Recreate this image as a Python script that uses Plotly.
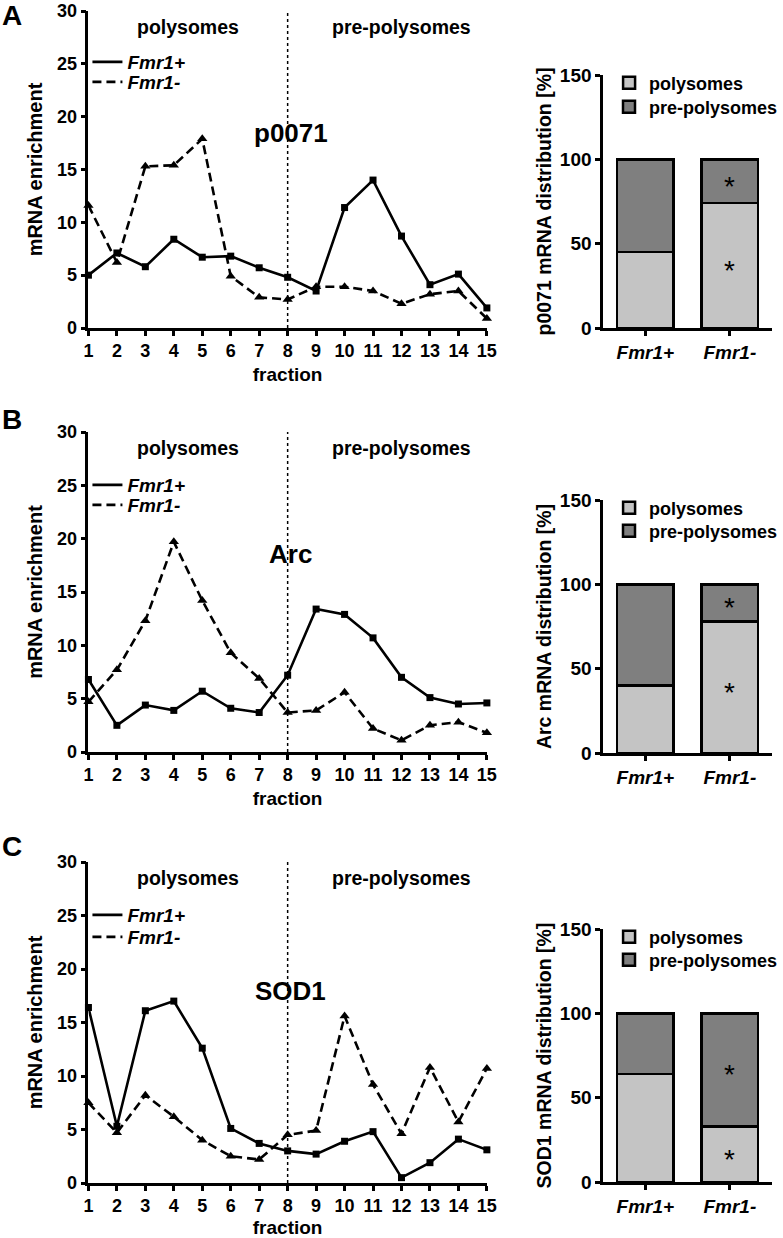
import plotly.graph_objects as go

# ---------------- data ----------------
fractions = list(range(1, 16))
genes = ["p0071", "Arc", "SOD1"]
panel_letters = ["A", "B", "C"]
region_labels = ["polysomes", "pre-polysomes"]
boundary_fraction = 8

p0071_fmr1_pos = [5.0, 7.1, 5.8, 8.4, 6.7, 6.8, 5.7, 4.8, 3.5, 11.4, 14.0, 8.7, 4.1, 5.1, 1.9]
p0071_fmr1_neg = [11.6, 6.2, 15.3, 15.4, 17.9, 4.9, 2.9, 2.7, 3.9, 3.9, 3.5, 2.3, 3.2, 3.5, 0.9]
arc_fmr1_pos = [6.8, 2.5, 4.4, 3.9, 5.7, 4.1, 3.7, 7.2, 13.4, 12.9, 10.7, 7.0, 5.1, 4.5, 4.6]
arc_fmr1_neg = [4.7, 7.7, 12.3, 19.7, 14.2, 9.3, 6.9, 3.7, 3.9, 5.6, 2.2, 1.1, 2.5, 2.8, 1.8]
sod1_fmr1_pos = [16.4, 5.3, 16.1, 17.0, 12.6, 5.1, 3.7, 3.0, 2.7, 3.9, 4.8, 0.5, 1.9, 4.1, 3.1]
sod1_fmr1_neg = [7.5, 4.7, 8.2, 6.2, 4.0, 2.5, 2.2, 4.5, 4.9, 15.6, 9.2, 4.6, 10.8, 5.7, 10.7]

genotypes = ["Fmr1+", "Fmr1-"]
p0071_polysomes = [45, 74]
p0071_prepolysomes = [55, 26]
arc_polysomes = [40, 78]
arc_prepolysomes = [60, 22]
sod1_polysomes = [64, 33]
sod1_prepolysomes = [36, 67]
# significance marks (Fmr1- vs Fmr1+) per segment
p0071_sig = {"polysomes": [False, True], "pre-polysomes": [False, True]}
arc_sig = {"polysomes": [False, True], "pre-polysomes": [False, True]}
sod1_sig = {"polysomes": [False, True], "pre-polysomes": [False, True]}

line_data = [(p0071_fmr1_pos, p0071_fmr1_neg), (arc_fmr1_pos, arc_fmr1_neg), (sod1_fmr1_pos, sod1_fmr1_neg)]
bar_data = [(p0071_polysomes, p0071_prepolysomes, p0071_sig),
            (arc_polysomes, arc_prepolysomes, arc_sig),
            (sod1_polysomes, sod1_prepolysomes, sod1_sig)]
gene_label_y = [18.5, 18.6, 17.9]

# ---------------- layout helpers ----------------
W, H = 783, 1238
FONT = "Liberation Sans, Arial, sans-serif"
LIGHT = "#c4c4c4"
DARK = "#7f7f7f"
DASH = "9px,5px"
LW = 2.6


def fx(p):
    return p / W


def fy(p):
    return 1 - p / H


line_x_px = (89, 490)
line_y_px = [(11, 328), (432, 752), (862, 1183)]
bar_x_px = (607, 777)
bar_y_px = [(75, 328), (500, 753), (929, 1182)]
line_leg_rows = [(62, 82), (485, 505), (915, 937)]
bar_leg_rows = [(83, 107), (508, 531), (937, 960)]
letter_y = [16, 420, 847]

fig = go.Figure()
layout = dict(
    width=W, height=H, margin=dict(l=0, r=0, t=0, b=0),
    paper_bgcolor="white", plot_bgcolor="white",
    barmode="stack", showlegend=True,
    font=dict(family=FONT, color="black"),
    annotations=[], shapes=[],
)

axis_common = dict(showline=True, linecolor="black", linewidth=2.5, ticks="outside",
                   tickcolor="black", tickwidth=2.5, ticklen=5, showgrid=False,
                   zeroline=False, mirror=False, automargin=False, ticklabeloverflow="allow",
                   tickfont=dict(family=FONT, size=18, weight="bold", color="black"))


def legend_name(k):
    return "legend" if k == 1 else f"legend{k}"


for i in range(3):
    lx, ly = 2 * i + 1, 2 * i + 2  # axis indices: line, bar
    xl, yl = f"x{lx}", f"y{lx}"
    xb, yb = f"x{ly}", f"y{ly}"
    pos, neg = line_data[i]

    # line chart traces
    fig.add_trace(go.Scatter(x=fractions, y=pos, mode="lines+markers", xaxis=xl, yaxis=yl,
                             line=dict(color="black", width=LW),
                             marker=dict(symbol="square", size=7, color="black"),
                             showlegend=False, cliponaxis=False))
    fig.add_trace(go.Scatter(x=fractions, y=neg, mode="lines+markers", xaxis=xl, yaxis=yl,
                             line=dict(color="black", width=LW, dash=DASH),
                             marker=dict(symbol="triangle-up", size=9, color="black"),
                             showlegend=False, cliponaxis=False))
    # legend entries (line samples only), one legend per entry for tight row spacing
    for j, (name, dash) in enumerate([("Fmr1+", "solid"), ("Fmr1-", DASH)]):
        k = 4 * i + 1 + j
        fig.add_trace(go.Scatter(x=[None], y=[None], mode="lines", name=name, xaxis=xl, yaxis=yl,
                                 line=dict(color="black", width=LW, dash=dash),
                                 legend=legend_name(k)))
        layout[legend_name(k)] = dict(x=fx(88), y=fy(line_leg_rows[i][j]), xanchor="left", yanchor="middle",
                                      bgcolor="rgba(0,0,0,0)", borderwidth=0,
                                      font=dict(family=FONT, size=19, weight="bold", style="italic",
                                                color="black"))

    # bar chart traces
    poly, prep, sig = bar_data[i]
    for j, (name, vals, col) in enumerate([("polysomes", poly, LIGHT), ("pre-polysomes", prep, DARK)]):
        k = 4 * i + 3 + j
        fig.add_trace(go.Bar(x=genotypes, y=vals, name=name, xaxis=xb, yaxis=yb, width=0.67,
                             marker=dict(color=col, line=dict(color="black", width=2.5)),
                             legend=legend_name(k)))
        layout[legend_name(k)] = dict(x=fx(613), y=fy(bar_leg_rows[i][j]), xanchor="left", yanchor="middle",
                                      bgcolor="rgba(0,0,0,0)", borderwidth=0,
                                      font=dict(family=FONT, size=18, weight="bold", color="black"))
    for g, gname in enumerate(genotypes):
        if sig["polysomes"][g]:
            layout["annotations"].append(dict(x=gname, y=poly[g] / 2, xref=xb, yref=yb, text="*",
                                              showarrow=False, yshift=-5,
                                              font=dict(family=FONT, size=28, color="black")))
        if sig["pre-polysomes"][g]:
            layout["annotations"].append(dict(x=gname, y=poly[g] + prep[g] / 2, xref=xb, yref=yb, text="*",
                                              showarrow=False, yshift=-5,
                                              font=dict(family=FONT, size=28, color="black")))

    # axes
    layout[f"xaxis{lx}"] = dict(axis_common, domain=[fx(line_x_px[0]), fx(line_x_px[1])], anchor=yl,
                                range=[1, 15], tickmode="array", tickvals=fractions,
                                title=dict(text="fraction", standoff=8,
                                           font=dict(family=FONT, size=19, weight="bold")))
    layout[f"yaxis{lx}"] = dict(axis_common, domain=[fy(line_y_px[i][1]), fy(line_y_px[i][0])], anchor=xl,
                                range=[0, 30], tickmode="linear", tick0=0, dtick=5,
                                title=dict(text="mRNA enrichment", standoff=10,
                                           font=dict(family=FONT, size=20, weight="bold")))
    layout[f"xaxis{ly}"] = dict(axis_common, domain=[fx(bar_x_px[0]), fx(bar_x_px[1])], anchor=yb,
                                type="category", range=[-0.5, 1.5],
                                tickfont=dict(family=FONT, size=19, weight="bold", style="italic"))
    layout[f"yaxis{ly}"] = dict(axis_common, domain=[fy(bar_y_px[i][1]), fy(bar_y_px[i][0])], anchor=xb,
                                range=[0, 150], tickmode="array", tickvals=[0, 50, 100, 150],
                                tickfont=dict(family=FONT, size=19, weight="bold"),
                                title=dict(text=f"{genes[i]} mRNA distribution [%]", standoff=4,
                                           font=dict(family=FONT, size=19.5, weight="bold")))

    # divider between polysome and pre-polysome fractions
    layout["shapes"].append(dict(type="line", xref=xl, yref=yl, x0=boundary_fraction, x1=boundary_fraction,
                                 y0=0, y1=30, line=dict(color="black", width=1.5, dash="dot")))
    # region labels and gene name
    layout["annotations"].append(dict(x=4.5, y=28.5, xref=xl, yref=yl, text=region_labels[0], showarrow=False,
                                      font=dict(family=FONT, size=19.5, weight="bold")))
    layout["annotations"].append(dict(x=12, y=28.5, xref=xl, yref=yl, text=region_labels[1], showarrow=False,
                                      font=dict(family=FONT, size=19.5, weight="bold")))
    layout["annotations"].append(dict(x=8.1, y=gene_label_y[i], xref=xl, yref=yl, text=genes[i],
                                      showarrow=False, font=dict(family=FONT, size=26, weight="bold")))
    # panel letter
    layout["annotations"].append(dict(x=0, y=fy(letter_y[i]), xref="paper", yref="paper", text=panel_letters[i],
                                      xanchor="left", yanchor="middle", showarrow=False,
                                      font=dict(family=FONT, size=28, weight="bold")))

fig.update_layout(**layout)
fig.write_html("out.html", config={"displayModeBar": False},
               post_script="document.body.style.margin='0px';")
